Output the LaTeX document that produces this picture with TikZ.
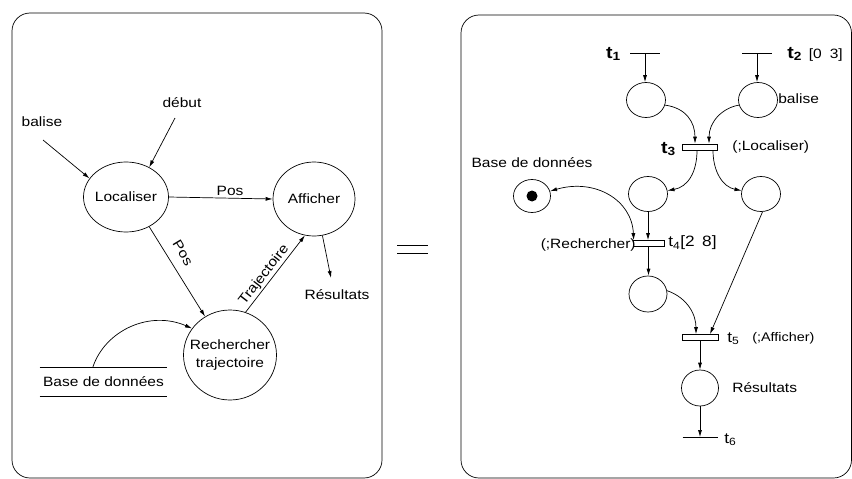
\documentclass[tikz,border=0pt]{standalone}
\usepackage{fontspec}
\setmainfont{Liberation Sans}[FakeStretch=1.15]
\usetikzlibrary{arrows.meta,shapes.geometric}
\begin{document}
\begin{tikzpicture}[x=1pt,y=-1pt, line width=0.7pt,
  every node/.style={font=\fontsize{13.5}{15}\selectfont, inner sep=0pt},
  arr/.style={-{Latex[length=7pt,width=4pt]}},
  darr/.style={{Latex[length=7pt,width=4pt]}-{Latex[length=7pt,width=4pt]}},
  proc/.style={draw, ellipse, inner sep=0pt},
  place/.style={draw, ellipse, minimum width=39pt, minimum height=35pt},
  token/.style={circle, fill, minimum size=11pt},
  bar/.style={draw, rectangle, minimum width=35pt, minimum height=6pt},
  tline/.style={rectangle, minimum width=29pt, minimum height=0pt},
  panel/.style={draw, rounded corners=18pt},
  tbig/.style={font=\fontsize{17}{19}\selectfont\bfseries},
  tsmall/.style={font=\fontsize{15}{17}\selectfont},
  lsmall/.style={font=\fontsize{12.5}{14}\selectfont}]
\useasboundingbox (0,0) rectangle (852,479);

% panels
\draw[panel] (12,13) rectangle (382,478);
\draw[panel] (461,15) rectangle (851.5,478);

% ---------- left panel ----------
\node[proc, minimum width=85pt, minimum height=70pt, label=center:Localiser] (loc) at (126,197) {};
\node[proc, minimum width=82pt, minimum height=74pt, label=center:Afficher] (aff) at (314,199) {};
\node[proc, minimum width=93pt, minimum height=90pt,
  label={[align=center, font=\fontsize{13.5}{18}\selectfont]center:Rechercher\\trajectoire}] (rech) at (230,355) {};

\node (tbal) at (42,122) {balise};
\coordinate (cbal) at (43,140);
\draw[arr] (cbal) -- (loc.153);

\node (tdeb) at (182,103) {début};
\coordinate (cdeb) at (175,118);
\draw[arr] (cdeb) -- (loc.52);

\draw[arr] (loc.east) -- (aff.west) node[pos=0.59, above=2pt] (lpos1) {Pos};

\draw[arr] (loc.-52) -- (rech.123);
\node[rotate=-59] (lpos2) at (183,253) {Pos};

\draw[arr] (rech.70) -- (aff.256) node[pos=0.42, sloped, above=1.5pt] (ltraj) {Trajectoire};

\coordinate (cres) at (331,278);
\draw[arr] (aff.-77) -- (cres);
\node (tres) at (337,295) {Résultats};

\node[minimum width=127pt, minimum height=28pt] (db) at (103.5,382) {Base de données};
\draw (db.north west) -- (db.north east);
\draw (db.south west) -- (db.south east);
\draw[arr] ([xshift=53pt]db.north west) .. controls (105,330) and (150,310) .. (rech.145);

% equals sign
\draw (397,245) -- (428,245);
\draw (397,253) -- (428,253);

% ---------- right panel ----------
\node[tline] (t1) at (645,53) {};
\draw (t1.west) -- (t1.east);
\node[tbig, anchor=east] (lt1) at (621,54) {t\textsubscript{1}};

\node[tline] (t2) at (757,53) {};
\draw (t2.west) -- (t2.east);
\node[tbig, anchor=west] (lt2) at (787,54) {t\textsubscript{2}\hspace{0.4em}{\mdseries\fontsize{13.5}{15}\selectfont[0\hspace{0.6em}3]}};

\node[place] (P1) at (646,100) {};
\node[place] (P2) at (758,100) {};
\node[anchor=west] (lbal) at (778,99) {balise};

\draw[arr] (t1.center) -- (t1.center |- P1.north);
\draw[arr] (t2.center) -- (t2.center |- P2.north);

\node[bar] (t3) at (700,147) {};
\node[tbig, anchor=east] (lt3) at (676,149) {t\textsubscript{3}};
\node[anchor=west] (lloc) at (732,147) {(;Localiser)};

\draw[arr] (P1.-15) .. controls (686,108) and (695,122) .. ([xshift=-5pt]t3.north);
\draw[arr] (P2.195) .. controls (722,108) and (709,122) .. ([xshift=9pt]t3.north);

\node[place] (P3) at (648,194) {};
\node[place] (P4) at (761,194) {};
\draw[arr] ([xshift=-3pt]t3.south) .. controls (697,172) and (688,187) .. (P3.10);
\draw[arr] ([xshift=13pt]t3.south) .. controls (713,172) and (723,187) .. (P4.170);

\node[place, minimum width=37pt, minimum height=33pt] (dbp) at (532,196) {};
\node[token] (tok) at (dbp) {};
\node (tdbr) at (532,163) {Base de données};

\node[bar, minimum width=31pt] (t4) at (648.5,243.5) {};
\node[anchor=east] (lrech) at (636,245) {(;Rechercher)};
\node[tsmall, anchor=west] (lt4) at (668,243) {t\textsubscript{4}[2\hspace{0.5em}8]};

\draw[arr] (P3.south) -- (P3.south |- t4.north);
\draw[darr] (dbp.15) .. controls (595,178) and (632,200) .. ([xshift=1pt]t4.north west);

\node[place, minimum width=38pt, minimum height=36pt] (P5) at (648,294) {};
\draw[arr] (t4.south) -- (t4.south |- P5.north);

\node[bar, minimum width=36pt] (t5) at (700,337.5) {};
\node[tsmall, anchor=west] (lt5) at (727,339) {t\textsubscript{5}};
\node[lsmall, anchor=west] (laff) at (752,338) {(;Afficher)};

\draw[arr] (P5.10) .. controls (688,298) and (696,315) .. ([xshift=-4pt]t5.north);
\draw[arr] (P4.-85) -- ([xshift=10pt]t5.north);

\node[place, minimum width=37pt, minimum height=36pt] (P6) at (700,388) {};
\draw[arr] (t5.south) -- (t5.south |- P6.north);
\node[anchor=west] (lres) at (732,388) {Résultats};

\node[tline, minimum width=35pt] (t6) at (700.5,437) {};
\draw (t6.west) -- (t6.east);
\draw[arr] (P6.south) -- (P6.south |- t6.center);
\node[tsmall, anchor=west] (lt6) at (724,440) {t\textsubscript{6}};
\end{tikzpicture}
\end{document}
